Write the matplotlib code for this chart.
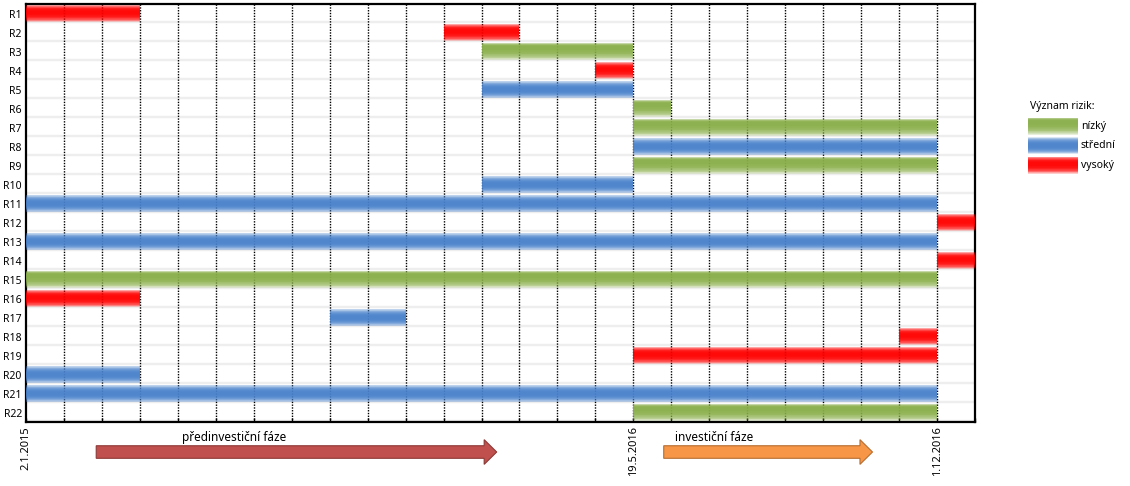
import matplotlib
matplotlib.use("Agg")
import matplotlib.pyplot as plt
from matplotlib.patches import FancyArrow

plt.rcParams['font.family'] = ['Noto Sans', 'DejaVu Sans']

## data: periods on the time axis (25 equal periods)
rizika = ["R%d" % i for i in range(1, 23)]
zacatek = [0, 11, 12, 15, 12, 16, 16, 16, 16, 12, 0, 24, 0, 24, 0, 0, 8, 23, 16, 0, 0, 16]
konec = [3, 13, 16, 16, 16, 17, 24, 24, 24, 16, 24, 25, 24, 25, 24, 3, 10, 24, 24, 3, 24, 24]
vyznam = ["vysoký", "vysoký", "nízký", "vysoký", "střední", "nízký", "nízký", "střední",
          "nízký", "střední", "střední", "vysoký", "střední", "vysoký", "nízký", "vysoký",
          "střední", "vysoký", "vysoký", "střední", "střední", "nízký"]

urovne = ["nízký", "střední", "vysoký"]
barvy = {"nízký": "#8AAF4A", "střední": "#4A82CC", "vysoký": "#FF0000"}
# how far the darkest part sits above the bar centre (green is darker on top)
posun = {"nízký": 0.55, "střední": 0.0, "vysoký": 0.15}

pocet_obdobi = 25
datum_pozice = [0, 16, 24]
datum_popisky = ["2.1.2015", "19.5.2016", "1.12.2016"]

faze = ["předinvestiční fáze", "investiční fáze"]
faze_od = [1.85, 16.8]
faze_do = [12.4, 22.3]
faze_barva = ["#C0504D", "#F79646"]
faze_okraj = ["#8C3836", "#B66D31"]


def gradient_bar(ax, y, left, width, uroven, h=0.9, n=14):
    # layered bars -> soft vertical gradient like the Excel fill
    for k in range(n):
        f = k / n
        hk = h * (1 - f * 0.85)
        yk = y - posun[uroven] * (h - hk) / 2
        ax.barh(yk, width, left=left, height=hk, color=barvy[uroven],
                alpha=0.2, linewidth=0, zorder=3)


fig = plt.figure(figsize=(11.3, 4.86), dpi=100)
ax = fig.add_axes([26 / 1130, 1 - 422 / 486, (975 - 26) / 1130, (422 - 4) / 486])

n = len(rizika)
ax.set_xlim(0, pocet_obdobi)
ax.set_ylim(n - 0.5, -0.5)

## light row stripes
for i in range(n):
    ax.axhline(i + 0.45, color="#EEEEEE", lw=1.7, zorder=1)

## dotted vertical grid
ax.vlines(range(1, pocet_obdobi), -0.5, n - 0.5, colors="black",
          linestyles=(0, (1, 1)), lw=1, zorder=2)

for i in range(n):
    gradient_bar(ax, i, zacatek[i], konec[i] - zacatek[i], vyznam[i])

ax.set_yticks(range(n))
ax.set_yticklabels(rizika, fontsize=7.5)
ax.tick_params(axis="y", length=0, pad=3)

ax.set_xticks(range(pocet_obdobi + 1))
labels = [""] * (pocet_obdobi + 1)
for p, t in zip(datum_pozice, datum_popisky):
    labels[p] = t
ax.set_xticklabels(labels, rotation=90, fontsize=8, va="top")
ax.tick_params(axis="x", direction="in", length=3, width=1, pad=3)

for s in ax.spines.values():
    s.set_linewidth(1.6)
    s.set_color("black")

## phase arrows below the axis
for nazev, od, do, c, e in zip(faze, faze_od, faze_do, faze_barva, faze_okraj):
    ar = FancyArrow(od, 23.08, do - od, 0, width=0.66, head_width=1.3,
                    head_length=0.33, length_includes_head=True,
                    facecolor=c, edgecolor=e, lw=0.8, clip_on=False)
    ax.add_patch(ar)
    ax.text(od + (2.25 if od < 5 else 0.3), 22.3, nazev, fontsize=8.5,
            ha="left", va="center", clip_on=False)

## legend
lg = fig.add_axes([1026 / 1130, 1 - 176 / 486, 104 / 1130, 80 / 486])
lg.set_xlim(1026, 1130)
lg.set_ylim(176, 96)
lg.axis("off")
lg.text(1030, 107, "Význam rizik:", fontsize=7.5, va="center", ha="left")
for j, u in enumerate(urovne):
    gradient_bar(lg, 126 + j * 19.5, 1028, 50, u, h=17)
    lg.text(1081, 126 + j * 19.5, u, fontsize=7.5, va="center", ha="left")

fig.savefig("out.png", dpi=100)
